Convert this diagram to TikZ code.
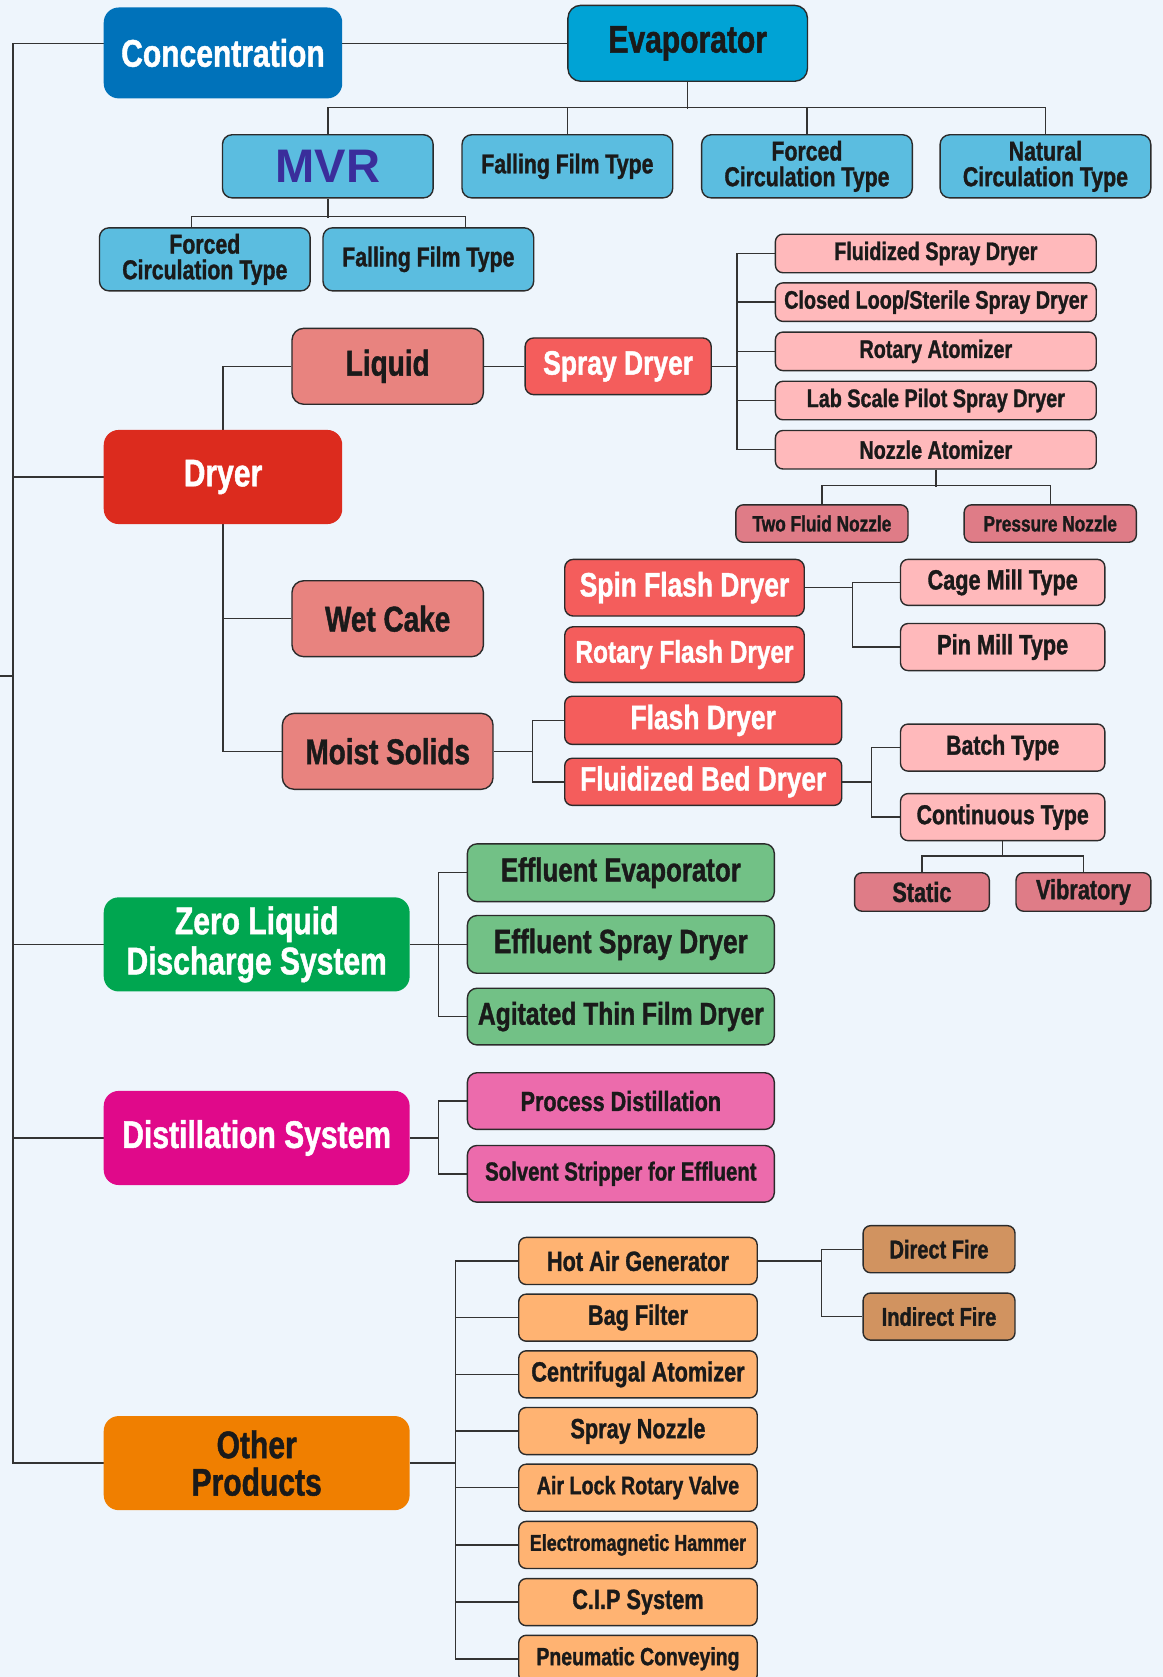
\documentclass[tikz,border=0pt]{standalone}
\usepackage{fontspec}
\newfontfamily\cond{Liberation Sans}[FakeStretch=0.78, BoldFeatures={FakeBold=1.2}]
\newfontfamily\plainsans{Liberation Sans}
\definecolor{bgc}{HTML}{EEF5FC}
\definecolor{edge}{HTML}{2B2B2B}
\definecolor{linec}{HTML}{333333}
\definecolor{ink}{HTML}{1A1A1A}
\definecolor{cconc}{HTML}{0072BA}
\definecolor{cevap}{HTML}{00A3D5}
\definecolor{cblue}{HTML}{5BBDE0}
\definecolor{cmvr}{HTML}{3A2E9B}
\definecolor{cdryer}{HTML}{DC2B1E}
\definecolor{csalmon}{HTML}{E8837F}
\definecolor{cred}{HTML}{F45D5C}
\definecolor{clpink}{HTML}{FFB9BB}
\definecolor{cdpink}{HTML}{DF7C87}
\definecolor{czld}{HTML}{00A650}
\definecolor{cgreen}{HTML}{72C186}
\definecolor{cdist}{HTML}{E0098A}
\definecolor{cpink}{HTML}{EC6BAC}
\definecolor{cother}{HTML}{F07F00}
\definecolor{corange}{HTML}{FFB372}
\definecolor{cbrown}{HTML}{D19360}
\pgfdeclarelayer{bgl}
\pgfdeclarelayer{lines}
\pgfsetlayers{bgl,lines,main}
\begin{document}
\begin{tikzpicture}[x=1pt,y=-1pt,
  sz/.style={font=\cond\bfseries\fontsize{#1pt}{#1pt}\selectfont},
  nbox/.style={rounded corners=7pt, draw=edge, line width=1.3pt, inner sep=0pt, align=center, text=ink},
  nbig/.style={rounded corners=14pt, inner sep=0pt, align=center, text=white, minimum width=286pt, minimum height=88pt, sz=36},
  conn/.style={draw=linec, line width=1.3pt}]
\begin{pgfonlayer}{bgl}
\fill[bgc] (0,0) rectangle (1087,1568);
\end{pgfonlayer}
\useasboundingbox (0,0) rectangle (1087,1568);

% ---------- Concentration ----------
\node[nbig, fill=cconc, minimum width=223pt, minimum height=85pt] (conc) at (208.5,49.5) {Concentration};
\node[nbox, rounded corners=12pt, fill=cevap, minimum width=224pt, minimum height=71pt, sz=36] (evap) at (643,40.5) {Evaporator};
\node[nbox, rounded corners=9pt, fill=cblue, minimum width=197pt, minimum height=59pt, font=\plainsans\bfseries\fontsize{44pt}{44pt}\selectfont, text=cmvr] (mvr) at (306.5,155.5) {MVR};
\node[nbox, rounded corners=9pt, fill=cblue, minimum width=197pt, minimum height=59pt, sz=25.5] (ff1) at (530.5,155.5) {Falling Film Type};
\node[nbox, rounded corners=9pt, fill=cblue, minimum width=197pt, minimum height=59pt, sz=25.5] (fc1) at (754.5,155.5) {Forced\\[-1.5pt]Circulation Type};
\node[nbox, rounded corners=9pt, fill=cblue, minimum width=197pt, minimum height=59pt, sz=25.5] (nc1) at (977.5,155.5) {Natural\\[-1.5pt]Circulation Type};
\node[nbox, rounded corners=9pt, fill=cblue, minimum width=197pt, minimum height=59pt, sz=25.5] (fc2) at (191.5,242.5) {Forced\\[-1.5pt]Circulation Type};
\node[nbox, rounded corners=9pt, fill=cblue, minimum width=197pt, minimum height=59pt, sz=25.5] (ff2) at (400.5,242.5) {Falling Film Type};

% ---------- Dryer ----------
\node[nbig, fill=cdryer, minimum width=223pt] (dryer) at (208.5,446) {Dryer};
\node[nbox, rounded corners=11pt, fill=csalmon, minimum width=179pt, minimum height=71pt, sz=33.5] (liquid) at (362.5,342.5) {Liquid};
\node[nbox, rounded corners=11pt, fill=csalmon, minimum width=179pt, minimum height=71pt, sz=33.5] (wetcake) at (362.5,578.5) {Wet Cake};
\node[nbox, rounded corners=11pt, fill=csalmon, minimum width=197pt, minimum height=71pt, sz=33.5] (moist) at (362.5,702.5) {Moist Solids};
\node[nbox, rounded corners=8pt, fill=cred, text=white, minimum width=174pt, minimum height=53pt, sz=31.7] (spray) at (578,342.5) {Spray Dryer};
\node[nbox, fill=clpink, minimum width=300pt, minimum height=36pt, sz=23.7] (fsd) at (875,237) {Fluidized Spray Dryer};
\node[nbox, fill=clpink, minimum width=300pt, minimum height=36pt, sz=23.7] (cls) at (875,282.5) {Closed Loop/Sterile Spray Dryer};
\node[nbox, fill=clpink, minimum width=300pt, minimum height=36pt, sz=23.7] (rot) at (875,328.5) {Rotary Atomizer};
\node[nbox, fill=clpink, minimum width=300pt, minimum height=36pt, sz=23.7] (lab) at (875,374.5) {Lab Scale Pilot Spray Dryer};
\node[nbox, fill=clpink, minimum width=300pt, minimum height=36pt, sz=23.7] (noz) at (875,420.5) {Nozzle Atomizer};
\node[nbox, fill=cdpink, minimum width=161pt, minimum height=35pt, sz=20.7] (tfn) at (768.5,489.5) {Two Fluid Nozzle};
\node[nbox, fill=cdpink, minimum width=161pt, minimum height=35pt, sz=20.7] (pn) at (982,489.5) {Pressure Nozzle};
\node[nbox, rounded corners=8pt, fill=cred, text=white, minimum width=224pt, minimum height=53pt, sz=31.6] (sfd) at (640,549.5) {Spin Flash Dryer};
\node[nbox, rounded corners=8pt, fill=cred, text=white, minimum width=224pt, minimum height=52pt, sz=29.2] (rfd) at (640,612) {Rotary Flash Dryer};
\node[nbox, fill=clpink, minimum width=191pt, minimum height=43pt, sz=26] (cage) at (937.5,544.5) {Cage Mill Type};
\node[nbox, fill=clpink, minimum width=191pt, minimum height=44pt, sz=26] (pin) at (937.5,605) {Pin Mill Type};
\node[nbox, fill=cred, text=white, minimum width=259pt, minimum height=45pt, sz=31.7] (fd) at (657.5,673.5) {Flash Dryer};
\node[nbox, fill=cred, text=white, minimum width=259pt, minimum height=44pt, sz=31.4] (fbd) at (657.5,731) {Fluidized Bed Dryer};
\node[nbox, fill=clpink, minimum width=191pt, minimum height=44pt, sz=25.5] (batch) at (937.5,699) {Batch Type};
\node[nbox, fill=clpink, minimum width=191pt, minimum height=44pt, sz=25.5] (cont) at (937.5,764) {Continuous Type};
\node[nbox, fill=cdpink, minimum width=126pt, minimum height=36pt, sz=26] (static) at (862,834) {Static};
\node[nbox, fill=cdpink, minimum width=126pt, minimum height=36pt, sz=26] (vib) at (1013,834) {Vibratory};

% ---------- ZLD ----------
\node[nbig, fill=czld] (zld) at (240,883) {Zero Liquid\\[1.5pt]Discharge System};
\node[nbox, rounded corners=9pt, fill=cgreen, minimum width=287pt, minimum height=54pt, sz=31] (ee) at (580.5,816) {Effluent Evaporator};
\node[nbox, rounded corners=9pt, fill=cgreen, minimum width=287pt, minimum height=54pt, sz=31.5] (esd) at (580.5,883) {Effluent Spray Dryer};
\node[nbox, rounded corners=9pt, fill=cgreen, minimum width=287pt, minimum height=53pt, sz=29.5] (atf) at (580.5,950.5) {Agitated Thin Film Dryer};

% ---------- Distillation ----------
\node[nbig, fill=cdist] (dist) at (240,1064) {Distillation System};
\node[nbox, rounded corners=9pt, fill=cpink, minimum width=287pt, minimum height=53pt, sz=25.9] (pd) at (580.5,1029.5) {Process Distillation};
\node[nbox, rounded corners=9pt, fill=cpink, minimum width=287pt, minimum height=53pt, sz=24.4] (ss) at (580.5,1097.5) {Solvent Stripper for Effluent};

% ---------- Other Products ----------
\node[nbig, fill=cother, text=ink] (other) at (240,1368) {Other\\[-1pt]Products};
\node[nbox, fill=corange, minimum width=223pt, minimum height=44pt, sz=26] (hag) at (596.5,1179) {Hot Air Generator};
\node[nbox, fill=corange, minimum width=223pt, minimum height=44pt, sz=26] (bag) at (596.5,1232) {Bag Filter};
\node[nbox, fill=corange, minimum width=223pt, minimum height=44pt, sz=26] (cen) at (596.5,1285) {Centrifugal Atomizer};
\node[nbox, fill=corange, minimum width=223pt, minimum height=44pt, sz=26] (spn) at (596.5,1338) {Spray Nozzle};
\node[nbox, fill=corange, minimum width=223pt, minimum height=44pt, sz=23.6] (alv) at (596.5,1391) {Air Lock Rotary Valve};
\node[nbox, fill=corange, minimum width=223pt, minimum height=44pt, sz=21.5] (emh) at (596.5,1444.5) {Electromagnetic Hammer};
\node[nbox, fill=corange, minimum width=223pt, minimum height=44pt, sz=26] (cip) at (596.5,1498) {C.I.P System};
\node[nbox, fill=corange, minimum width=223pt, minimum height=44pt, sz=23.3] (pnc) at (596.5,1551) {Pneumatic Conveying};
\node[nbox, fill=cbrown, minimum width=142pt, minimum height=44pt, sz=24] (direct) at (878,1168) {Direct Fire};
\node[nbox, fill=cbrown, minimum width=142pt, minimum height=44pt, sz=24] (indirect) at (878,1231) {Indirect Fire};

% ---------- connectors ----------
\begin{pgfonlayer}{lines}
\coordinate (tb) at (12,1368);
\coordinate (stub) at (0,632);
\draw[conn] (evap.west) -| (tb) -- (other.west);
\draw[conn] (dryer.west) -- (dryer.west -| tb);
\draw[conn] (zld.west) -- (zld.west -| tb);
\draw[conn] (dist.west) -- (dist.west -| tb);
\draw[conn] (stub) -- (stub -| tb);
% evaporator
\draw[conn] (evap.south) -- ++(0,25);
\draw[conn] (mvr.north) -- ++(0,-25) -| (nc1.north);
\draw[conn] (ff1.north) -- ++(0,-25);
\draw[conn] (fc1.north) -- ++(0,-25);
% mvr
\draw[conn] (mvr.south) -- ++(0,18);
\draw[conn] ([xshift=-12.5pt]fc2.north) -- ++(0,-10) -| ([xshift=34.5pt]ff2.north);
% dryer
\draw[conn] (liquid.west) -| (dryer.north);
\draw[conn] (dryer.south) |- (moist.west);
\draw[conn] (wetcake.west) -- (wetcake.west -| dryer.south);
\draw[conn] (liquid.east) -- (spray.west);
\coordinate (sb) at (689,342.5);
\draw[conn] (spray.east) -- (sb);
\draw[conn] (fsd.west) -| (sb |- noz.west) -- (noz.west);
\foreach \n in {cls,rot,lab} \draw[conn] (\n.west) -- (\n.west -| sb);
\draw[conn] (noz.south) -- ++(0,16);
\draw[conn] (tfn.north) -- ++(0,-17.5) -| (pn.north);
\coordinate (cb) at (797,549.5);
\draw[conn] (sfd.east) -- (cb);
\draw[conn] (cage.west) -| (cb |- pin.west) -- (pin.west);
\coordinate (mb) at (498,702.5);
\draw[conn] (moist.east) -- (mb);
\draw[conn] (fd.west) -| (mb |- fbd.west) -- (fbd.west);
\coordinate (fb) at (815,731);
\draw[conn] (fbd.east) -- (fb);
\draw[conn] (batch.west) -| (fb |- cont.west) -- (cont.west);
\draw[conn] (cont.south) -- ++(0,15);
\draw[conn] (static.north) -- ++(0,-15) -| (vib.north);
% zld
\coordinate (zb) at (410,883);
\draw[conn] (zld.east) -- (zb);
\draw[conn] (ee.west) -| (zb |- atf.west) -- (atf.west);
\draw[conn] (esd.west) -- (zb);
% distillation
\coordinate (db) at (410,1064);
\draw[conn] (dist.east) -- (db);
\draw[conn] (pd.west) -| (db |- ss.west) -- (ss.west);
% other
\coordinate (ob) at (426,1368);
\draw[conn] (other.east) -- (ob);
\draw[conn] (hag.west) -| (ob |- pnc.west) -- (pnc.west);
\foreach \n in {bag,cen,spn,alv,emh,cip} \draw[conn] (\n.west) -- (\n.west -| ob);
\coordinate (hb) at (768,1179);
\draw[conn] (hag.east) -- (hb);
\draw[conn] (direct.west) -| (hb |- indirect.west) -- (indirect.west);
\end{pgfonlayer}
\end{tikzpicture}
\end{document}
